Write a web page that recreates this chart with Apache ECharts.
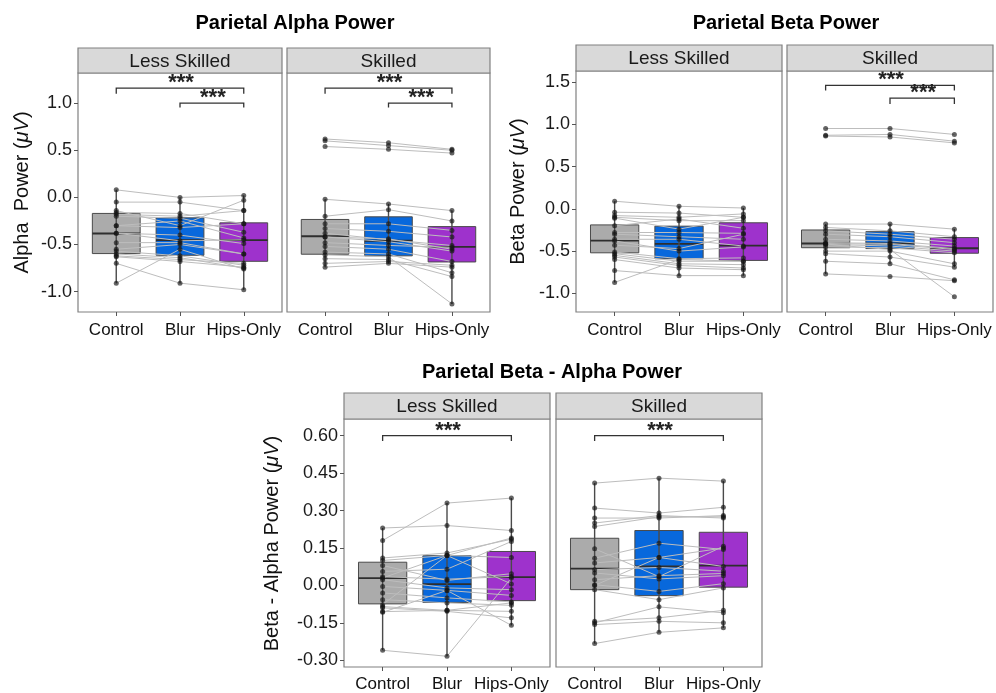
<!DOCTYPE html>
<html><head><meta charset="utf-8">
<script src="https://cdn.jsdelivr.net/npm/echarts@6/dist/echarts.min.js"></script>
<style>html,body{margin:0;padding:0;background:#fff}#c{width:996px;height:693px}</style>
</head><body><div id="c"></div>
<script>
const FONT = '"Liberation Sans", Arial, sans-serif';
const conditions = ['Control', 'Blur', 'Hips-Only'];
const facets = ['Less Skilled', 'Skilled'];
const panelTitles = ['Parietal Alpha Power', 'Parietal Beta Power', 'Parietal Beta - Alpha Power'];
const yTitles = ['Alpha  Power', 'Beta Power', 'Beta - Alpha Power'];
const alphaTicks = [-1.0, -0.5, 0.0, 0.5, 1.0];
const betaTicks = [-1.0, -0.5, 0.0, 0.5, 1.0, 1.5];
const diffTicks = [-0.30, -0.15, 0.00, 0.15, 0.30, 0.45, 0.60];

// participant values (same index = same participant)
const alphaLessControl = [0.08, -0.05, -0.14, -0.16, -0.18, -0.20, -0.30, -0.30, -0.38, -0.38, -0.48, -0.55, -0.57, -0.60, -0.62, -0.63, -0.70, -0.91];
const alphaLessBlur    = [0.00, -0.05, -0.30, -0.17, -0.20, -0.22, -0.25, -0.32, -0.40, -0.46, -0.48, -0.50, -0.62, -0.64, -0.66, -0.68, -0.91, -0.55];
const alphaLessHips    = [0.02, -0.14, -0.03, -0.28, -0.14, -0.37, -0.43, -0.28, -0.49, -0.45, -0.60, -0.60, -0.72, -0.75, -0.70, -0.74, -0.98, -0.76];

const alphaSkillControl = [0.62, 0.60, 0.54, -0.02, -0.20, -0.28, -0.33, -0.38, -0.42, -0.42, -0.48, -0.52, -0.58, -0.61, -0.65, -0.70, -0.74];
const alphaSkillBlur    = [0.58, 0.55, 0.51, -0.07, -0.13, -0.28, -0.36, -0.45, -0.44, -0.47, -0.51, -0.55, -0.60, -0.63, -0.66, -0.68, -0.70];
const alphaSkillHips    = [0.51, 0.50, 0.47, -0.14, -0.25, -0.35, -0.42, -0.51, -0.55, -0.57, -0.53, -0.68, -0.80, -1.13, -0.84, -0.72, -0.74];

const betaLessControl = [0.09, -0.04, -0.08, -0.10, -0.11, -0.20, -0.28, -0.30, -0.36, -0.38, -0.43, -0.51, -0.53, -0.55, -0.57, -0.60, -0.73, -0.87];
const betaLessBlur    = [0.03, -0.05, -0.10, -0.14, -0.24, -0.12, -0.28, -0.33, -0.36, -0.50, -0.47, -0.59, -0.62, -0.65, -0.67, -0.70, -0.79, -0.60];
const betaLessHips    = [0.01, -0.10, -0.06, -0.14, -0.10, -0.23, -0.29, -0.36, -0.44, -0.45, -0.30, -0.58, -0.62, -0.66, -0.70, -0.72, -0.79, -0.62];

const betaSkillControl = [0.95, 0.87, 0.86, -0.18, -0.22, -0.26, -0.30, -0.36, -0.40, -0.41, -0.42, -0.45, -0.50, -0.53, -0.62, -0.77, -0.42];
const betaSkillBlur    = [0.95, 0.88, 0.85, -0.18, -0.26, -0.30, -0.33, -0.38, -0.41, -0.42, -0.44, -0.46, -0.50, -0.57, -0.65, -0.80, -0.48];
const betaSkillHips    = [0.88, 0.80, 0.78, -0.24, -0.33, -0.36, -0.40, -0.44, -0.47, -0.48, -0.50, -0.52, -0.65, -0.69, -0.84, -0.85, -1.04];

const diffLessControl = [0.23, 0.18, 0.11, 0.10, 0.08, 0.056, 0.035, 0.03, 0.023, -0.004, -0.03, -0.057, -0.077, -0.085, -0.09, -0.105, -0.108, -0.26];
const diffLessBlur    = [0.24, 0.33, 0.13, 0.12, 0.02, 0.065, 0.025, 0.12, -0.01, -0.02, -0.05, -0.07, 0.12, -0.10, -0.104, -0.10, -0.02, -0.284];
const diffLessHips    = [0.22, 0.35, 0.185, 0.112, 0.047, 0.176, 0.036, 0.006, -0.017, -0.04, -0.066, -0.08, 0.19, -0.104, -0.13, -0.07, -0.16, 0.03];

const diffSkillControl = [0.41, 0.31, 0.27, 0.25, 0.236, 0.147, 0.109, 0.09, 0.063, 0.05, 0.023, 0.003, -0.017, -0.144, -0.15, -0.157, -0.233, 0.0];
const diffSkillBlur    = [0.43, 0.29, 0.27, 0.28, 0.275, 0.035, 0.169, 0.112, 0.072, 0.026, 0.039, -0.024, -0.057, -0.13, -0.086, -0.144, -0.188, 0.112];
const diffSkillHips    = [0.418, 0.313, 0.28, 0.27, 0.275, 0.157, 0.144, 0.076, 0.057, 0.039, 0.048, 0.007, -0.01, -0.10, -0.11, -0.15, -0.17, 0.15];

// box stats per condition: [lowWhisker, q1, median, q3, highWhisker]
const alphaLessBox  = [[-0.91, -0.596, -0.383, -0.17, 0.08], [-0.91, -0.614, -0.454, -0.217, 0.00], [-0.98, -0.678, -0.454, -0.27, 0.02]];
const alphaSkillBox = [[-0.74, -0.603, -0.412, -0.234, -0.02], [-0.70, -0.62, -0.46, -0.206, -0.07], [-1.13, -0.685, -0.525, -0.31, -0.14]];
const betaLessBox   = [[-0.87, -0.52, -0.375, -0.19, 0.09], [-0.79, -0.59, -0.414, -0.205, 0.03], [-0.79, -0.61, -0.434, -0.165, 0.01]];
const betaSkillBox  = [[-0.77, -0.46, -0.41, -0.25, -0.18], [-0.65, -0.47, -0.41, -0.27, -0.18], [-0.69, -0.525, -0.466, -0.34, -0.24]];
const diffLessBox   = [[-0.26, -0.074, 0.029, 0.093, 0.23], [-0.284, -0.068, 0.005, 0.119, 0.33], [-0.16, -0.061, 0.033, 0.136, 0.35]];
const diffSkillBox  = [[-0.233, -0.017, 0.067, 0.189, 0.41], [-0.188, -0.041, 0.076, 0.22, 0.429], [-0.17, -0.007, 0.079, 0.213, 0.418]];

// significance brackets: [fromCondition, toCondition, bracketY, tipY]
const alphaLessSig  = [[1, 3, 1.16, 1.10], [2, 3, 1.0, 0.955]];
const alphaSkillSig = [[1, 3, 1.16, 1.10], [2, 3, 1.0, 0.955]];
const betaLessSig   = [];
const betaSkillSig  = [[1, 3, 1.46, 1.40], [2, 3, 1.31, 1.24]];
const diffLessSig   = [[1, 3, 0.60, 0.579]];
const diffSkillSig  = [[1, 3, 0.60, 0.579]];

const boxColors = ['#ababab', '#0868dc', '#9e32cc'];

// layout (pixels)
const panels = [
  {left: 78,  top: 73,  width: 204, height: 239, stripTop: 48,  row: 0, first: true,
   values: [alphaLessControl, alphaLessBlur, alphaLessHips], box: alphaLessBox, sig: alphaLessSig, facet: 0},
  {left: 287, top: 73,  width: 203, height: 239, stripTop: 48,  row: 0, first: false,
   values: [alphaSkillControl, alphaSkillBlur, alphaSkillHips], box: alphaSkillBox, sig: alphaSkillSig, facet: 1},
  {left: 576, top: 71,  width: 206, height: 241, stripTop: 45,  row: 1, first: true,
   values: [betaLessControl, betaLessBlur, betaLessHips], box: betaLessBox, sig: betaLessSig, facet: 0},
  {left: 787, top: 71,  width: 206, height: 241, stripTop: 45,  row: 1, first: false,
   values: [betaSkillControl, betaSkillBlur, betaSkillHips], box: betaSkillBox, sig: betaSkillSig, facet: 1},
  {left: 344, top: 419, width: 206, height: 249, stripTop: 393, row: 2, first: true,
   values: [diffLessControl, diffLessBlur, diffLessHips], box: diffLessBox, sig: diffLessSig, facet: 0},
  {left: 556, top: 419, width: 206, height: 249, stripTop: 393, row: 2, first: false,
   values: [diffSkillControl, diffSkillBlur, diffSkillHips], box: diffSkillBox, sig: diffSkillSig, facet: 1}
];
const rows = [
  {min: -1.216, max: 1.32, ticks: alphaTicks, dec: 1, titleX: 295, titleY: 23, yTitleX: 22, xMargin: 10},
  {min: -1.22, max: 1.63, ticks: betaTicks, dec: 1, titleX: 786, titleY: 23, yTitleX: 518, xMargin: 10},
  {min: -0.327, max: 0.667, ticks: diffTicks, dec: 2, titleX: 552, titleY: 372, yTitleX: 272, xMargin: 9}
];

const grids = [], xAxes = [], yAxes = [], series = [], graphics = [];
const BORDER = '#808080';

panels.forEach((p, i) => {
  const r = rows[p.row];
  grids.push({left: p.left, top: p.top, width: p.width, height: p.height, show: true,
    borderColor: BORDER, borderWidth: 1.2, backgroundColor: 'rgba(0,0,0,0)'});
  xAxes.push({gridIndex: i, type: 'value', min: 0.4, max: 3.6, position: 'bottom',
    splitLine: {show: false}, axisLine: {show: false, onZero: false},
    axisTick: {show: true, customValues: [1, 2, 3], length: 4, lineStyle: {color: '#555'}},
    axisLabel: {customValues: [1, 2, 3], formatter: v => conditions[Math.round(v) - 1],
      fontSize: 17, color: '#111', margin: r.xMargin, fontFamily: FONT}});
  yAxes.push({gridIndex: i, type: 'value', min: r.min, max: r.max, position: 'left',
    splitLine: {show: false}, axisLine: {show: false, onZero: false},
    axisTick: {show: p.first, customValues: r.ticks, length: 4, lineStyle: {color: '#555'}},
    axisLabel: {show: p.first, customValues: r.ticks, formatter: v => v.toFixed(r.dec),
      fontSize: 18, color: '#1a1a1a', margin: 6, fontFamily: FONT}});

  // boxes
  series.push({type: 'custom', xAxisIndex: i, yAxisIndex: i, z: 1, silent: true,
    data: p.box.map((b, k) => [k + 1].concat(b)),
    renderItem: (params, api) => {
      const x = api.value(0);
      const q1 = api.value(2), med = api.value(3), q3 = api.value(4);
      const a = api.coord([x - 0.375, q3]), b = api.coord([x + 0.375, q1]);
      const m1 = api.coord([x - 0.375, med]), m2 = api.coord([x + 0.375, med]);
      return {type: 'group', children: [
        {type: 'rect', shape: {x: a[0], y: a[1], width: b[0] - a[0], height: b[1] - a[1]},
          style: {fill: boxColors[params.dataIndex], stroke: '#4a4a4a', lineWidth: 1}},
        {type: 'line', shape: {x1: m1[0], y1: m1[1], x2: m2[0], y2: m2[1]},
          style: {stroke: '#2e2e2e', lineWidth: 1.8}}
      ]};
    }});
  // participant lines
  p.values[0].forEach((_, j) => {
    series.push({type: 'line', xAxisIndex: i, yAxisIndex: i, z: 2, silent: true, symbol: 'none',
      data: [[1, p.values[0][j]], [2, p.values[1][j]], [3, p.values[2][j]]],
      lineStyle: {color: '#bdbdbd', width: 1}, animation: false});
  });
  // whiskers
  series.push({type: 'custom', xAxisIndex: i, yAxisIndex: i, z: 3, silent: true,
    data: p.box.map((b, k) => [k + 1].concat(b)),
    renderItem: (params, api) => {
      const x = api.value(0);
      const lo = api.coord([x, api.value(1)]), hi = api.coord([x, api.value(5)]);
      return {type: 'line', shape: {x1: lo[0], y1: lo[1], x2: hi[0], y2: hi[1]},
        style: {stroke: '#4a4a4a', lineWidth: 1.4}};
    }});
  // points
  const pts = [];
  p.values.forEach((arr, k) => arr.forEach(v => pts.push([k + 1, v])));
  series.push({type: 'scatter', xAxisIndex: i, yAxisIndex: i, z: 4, silent: true,
    symbolSize: 5, data: pts, itemStyle: {color: 'rgba(20,20,20,0.82)'}});
  // significance
  if (p.sig.length) {
    series.push({type: 'custom', xAxisIndex: i, yAxisIndex: i, z: 5, silent: true,
      data: p.sig, clip: false,
      renderItem: (params, api) => {
        const x1 = api.value(0), x2 = api.value(1), y = api.value(2), t = api.value(3);
        const a = api.coord([x1, t]), b = api.coord([x1, y]), c = api.coord([x2, y]), d = api.coord([x2, t]);
        return {type: 'group', children: [
          {type: 'polyline', shape: {points: [a, b, c, d]}, style: {stroke: '#333', lineWidth: 1.3, fill: null}},
          {type: 'text', x: (b[0] + c[0]) / 2 + 1, y: b[1] - 5,
            style: {text: '***', fontSize: 22, fontWeight: 'bold', fontFamily: FONT, fill: '#222',
              align: 'center', verticalAlign: 'middle'}}
        ]};
      }});
  }
  // strip
  graphics.push({type: 'rect', shape: {x: p.left, y: p.stripTop, width: p.width, height: p.top - p.stripTop},
    style: {fill: '#d9d9d9', stroke: BORDER, lineWidth: 1.2}, z: 10});
  graphics.push({type: 'text', x: p.left + p.width / 2, y: (p.stripTop + p.top) / 2 + 1,
    style: {text: facets[p.facet], fontSize: 19, fontFamily: FONT, fill: '#1a1a1a',
      align: 'center', verticalAlign: 'middle'}, z: 11});
});

rows.forEach((r, k) => {
  graphics.push({type: 'text', x: r.titleX, y: r.titleY,
    style: {text: panelTitles[k], fontSize: 20, fontWeight: 'bold', fontFamily: FONT, fill: '#000',
      align: 'center', verticalAlign: 'middle'}, z: 11});
  const p = panels[k * 2];
  graphics.push({type: 'text', x: r.yTitleX, y: p.top + p.height / 2, rotation: Math.PI / 2,
    style: {text: '{n|' + yTitles[k] + ' (}{i|μV}{n|)}', fontSize: 20, fontFamily: FONT, fill: '#111',
      align: 'center', verticalAlign: 'middle',
      rich: {n: {fontSize: 20, fontFamily: FONT, fill: '#111'},
             i: {fontSize: 20, fontFamily: FONT, fontStyle: 'italic', fill: '#111'}}}, z: 11});
});

const chart = echarts.init(document.getElementById('c'), null, {renderer: 'canvas'});
chart.setOption({
  animation: false,
  backgroundColor: '#fff',
  grid: grids, xAxis: xAxes, yAxis: yAxes, series: series, graphic: graphics
});
</script>
</body></html>
